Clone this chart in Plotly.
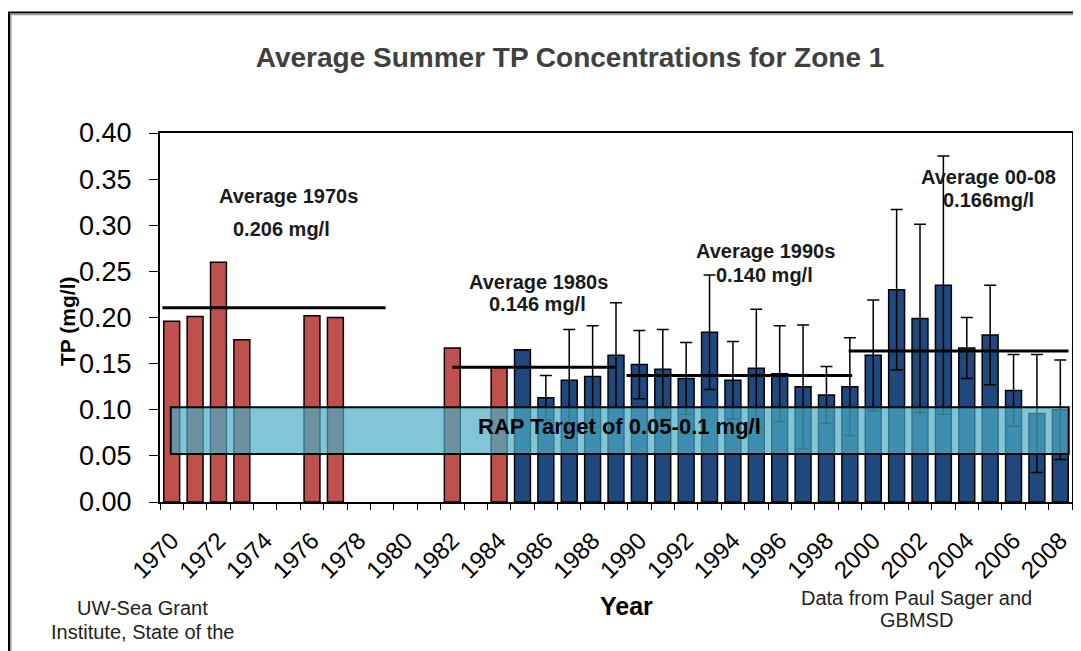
import plotly.graph_objects as go

# ---------------- data ----------------
red_years = [1970, 1971, 1972, 1973, 1976, 1977, 1982, 1984]
red_tp = [0.196, 0.201, 0.260, 0.176, 0.202, 0.200, 0.167, 0.146]

blue_years = list(range(1985, 2009))
blue_tp = [0.165, 0.113, 0.132, 0.136, 0.159, 0.149, 0.144, 0.134, 0.184, 0.132,
           0.145, 0.139, 0.125, 0.116, 0.125, 0.159, 0.230, 0.199, 0.235, 0.167,
           0.181, 0.121, 0.096, 0.100]
blue_err = [0.0, 0.024, 0.055, 0.055, 0.057, 0.037, 0.043, 0.039, 0.062, 0.042,
            0.064, 0.052, 0.067, 0.031, 0.053, 0.060, 0.087, 0.102, 0.140, 0.033,
            0.054, 0.039, 0.064, 0.054]

avg_start = [1969.6, 1982.0, 1989.45, 1998.95]
avg_end = [1979.15, 1989.0, 1999.1, 2008.35]
avg_level = [0.2106, 0.146, 0.137, 0.1637]

avg_line1 = ["Average 1970s", "Average 1980s", "Average 1990s", "Average 00-08"]
avg_line2 = ["0.206 mg/l", "0.146 mg/l", "0.140 mg/l", "0.166mg/l"]
avg_text_x1 = [1975.0, 1985.7, 1995.4, 2004.95]
avg_text_y1 = [0.332, 0.239, 0.2725, 0.352]
avg_text_x2 = [1974.7, 1985.65, 1995.35, 2004.95]
avg_text_y2 = [0.296, 0.2146, 0.246, 0.3274]

rap_low, rap_high = 0.052, 0.1026
rap_x0, rap_x1 = 1969.96, 2008.36
rap_label = "RAP Target of 0.05-0.1 mg/l"

tick_years = list(range(1970, 2009, 2))
tick_text = [str(y) for y in tick_years]
y_ticks = [0.0, 0.05, 0.10, 0.15, 0.20, 0.25, 0.30, 0.35, 0.40]

FONT = "Liberation Sans, Arial, sans-serif"

# the page body adds an 8px offset; the figure is sized to compensate
OFF = 8
W, H = 1081 - OFF, 651 - OFF
ML, MT = 160 - OFF, 133 - OFF
PW, PH = 912, 369

fig = go.Figure()

fig.add_trace(go.Bar(
    x=red_years, y=red_tp, width=0.68,
    marker=dict(color="#C0504D", line=dict(color="black", width=1.5)),
    showlegend=False, hoverinfo="x+y"))

fig.add_trace(go.Bar(
    x=blue_years, y=blue_tp, width=0.68,
    marker=dict(color="#1F497D", line=dict(color="black", width=1.5)),
    error_y=dict(type="data", array=blue_err, visible=True,
                 color="black", thickness=1.5, width=6),
    showlegend=False, hoverinfo="x+y"))

for s, e, lv in zip(avg_start, avg_end, avg_level):
    fig.add_trace(go.Scatter(
        x=[s, e], y=[lv, lv], mode="lines",
        line=dict(color="black", width=3),
        showlegend=False, hoverinfo="skip"))

annotations = []
for t, x, y in zip(avg_line1, avg_text_x1, avg_text_y1):
    annotations.append(dict(x=x, y=y, xref="x", yref="y", text="<b>" + t + "</b>",
                            showarrow=False,
                            font=dict(family=FONT, size=20, color="#1a1a1a"),
                            xanchor="center", yanchor="middle"))
for t, x, y in zip(avg_line2, avg_text_x2, avg_text_y2):
    annotations.append(dict(x=x, y=y, xref="x", yref="y", text="<b>" + t + "</b>",
                            showarrow=False,
                            font=dict(family=FONT, size=20, color="#1a1a1a"),
                            xanchor="center", yanchor="middle"))

annotations.append(dict(x=(rap_x0 + rap_x1) / 2, y=0.0815, xref="x", yref="y",
                        text="<b>" + rap_label + "</b>", showarrow=False,
                        font=dict(family=FONT, size=22, color="black"),
                        xanchor="center", yanchor="middle"))

# axis titles & notes
annotations.append(dict(x=-0.102, y=0.4905, xref="paper", yref="paper",
                        text="<b>TP (mg/l)</b>", textangle=-90, showarrow=False,
                        font=dict(family=FONT, size=21, color="black"),
                        xanchor="center", yanchor="middle"))
annotations.append(dict(x=0.512, y=-0.2818, xref="paper", yref="paper",
                        text="<b>Year</b>", showarrow=False,
                        font=dict(family=FONT, size=25, color="black"),
                        xanchor="center", yanchor="middle"))
annotations.append(dict(x=-0.0192, y=-0.287, xref="paper", yref="paper",
                        text="UW-Sea Grant", showarrow=False,
                        font=dict(family=FONT, size=20, color="#222222"),
                        xanchor="center", yanchor="middle"))
annotations.append(dict(x=-0.0192, y=-0.352, xref="paper", yref="paper",
                        text="Institute, State of the", showarrow=False,
                        font=dict(family=FONT, size=20, color="#222222"),
                        xanchor="center", yanchor="middle"))
annotations.append(dict(x=0.829, y=-0.260, xref="paper", yref="paper",
                        text="Data from Paul Sager and", showarrow=False,
                        font=dict(family=FONT, size=20, color="#222222"),
                        xanchor="center", yanchor="middle"))
annotations.append(dict(x=0.829, y=-0.320, xref="paper", yref="paper",
                        text="GBMSD", showarrow=False,
                        font=dict(family=FONT, size=20, color="#222222"),
                        xanchor="center", yanchor="middle"))

shapes = [
    dict(type="rect", xref="x", yref="y", x0=rap_x0, x1=rap_x1, y0=rap_low, y1=rap_high,
         fillcolor="rgba(75,172,198,0.70)", line=dict(color="black", width=2),
         layer="above"),
    # outer frame (double line)
    dict(type="rect", xref="paper", yref="paper", x0=-0.1656, x1=1.05, y0=-0.6, y1=1.3266,
         line=dict(color="black", width=2), fillcolor="rgba(0,0,0,0)", layer="below"),
    dict(type="rect", xref="paper", yref="paper", x0=-0.1636, x1=1.05, y0=-0.6, y1=1.3211,
         line=dict(color="#9a9a9a", width=1.5), fillcolor="rgba(0,0,0,0)", layer="below"),
]

fig.update_layout(
    width=W, height=H,
    margin=dict(l=ML, r=W - ML - PW, t=MT, b=H - MT - PH, autoexpand=False),
    paper_bgcolor="white", plot_bgcolor="white",
    barmode="overlay",
    title=dict(text="<b>Average Summer TP Concentrations for Zone 1</b>",
               x=0.4496, xref="paper", xanchor="center",
               y=1 - (57 - OFF) / H, yref="container", yanchor="middle",
               font=dict(family=FONT, size=28, color="#404040")),
    annotations=annotations,
    shapes=shapes,
    xaxis=dict(range=[1969.5, 2008.5], tickmode="array", tickvals=tick_years,
               ticktext=tick_text, tickangle=-45, ticks="", automargin=False,
               ticklabelstandoff=13,
               tickfont=dict(family=FONT, size=24, color="black"),
               showline=True, linecolor="black", linewidth=2, mirror=True,
               showgrid=False, zeroline=False,
               minor=dict(ticks="outside", tickmode="linear", tick0=1969.5, dtick=1,
                          ticklen=6, tickcolor="black", tickwidth=1.2, showgrid=False)),
    yaxis=dict(range=[0, 0.40], tickmode="array", tickvals=y_ticks, automargin=False,
               tickformat=".2f", ticks="outside", ticklen=9, tickcolor="black",
               tickwidth=1.2, ticklabelstandoff=12,
               tickfont=dict(family=FONT, size=27, color="black"),
               showline=True, linecolor="black", linewidth=2, mirror=True,
               showgrid=False, zeroline=False),
    font=dict(family=FONT),
)

fig.write_html("out.html")
